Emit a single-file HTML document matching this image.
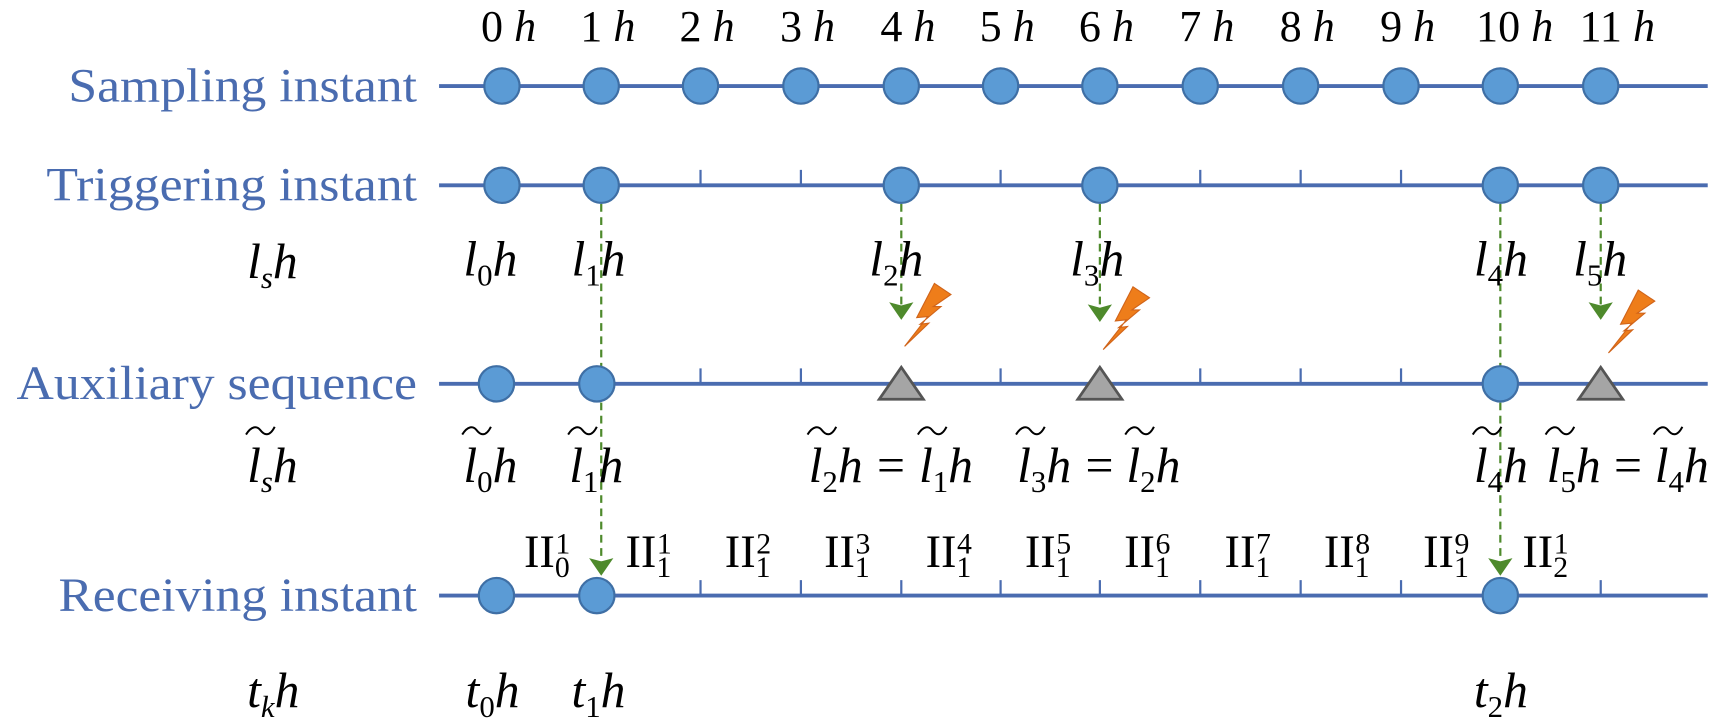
<!DOCTYPE html>
<html><head><meta charset="utf-8"><style>
html,body{margin:0;padding:0;background:#fff;}
svg{display:block}
.lab{font-family:"Liberation Serif",serif;font-size:43px;fill:#4a6cb0;text-anchor:end}
.m{font-family:"Liberation Serif",serif;font-size:45px;fill:#000}
.i{font-style:italic}
.top{font-family:"Liberation Serif",serif;font-size:40px;fill:#000;text-anchor:middle}
.s{font-size:28px;font-style:normal}
.si{font-size:28px;font-style:italic}
.r{font-family:"Liberation Serif",serif;font-size:42px;fill:#000}
.r tspan{font-size:27px}
</style></head><body>
<svg width="1732" height="718" viewBox="0 0 1570 651" preserveAspectRatio="none" xmlns="http://www.w3.org/2000/svg">
<defs>
<g id="bolt"><polygon points="0,0 22,-21 14,-20 33,-36 26,-36 42,-47 27,-57 11,-26 21,-27" fill="#ee7d1a" stroke="#d0641a" stroke-width="1"/></g>
<g id="arr"><polygon points="-11,-16 0,-13 11,-16 0,0" fill="#4e8a2c"/></g>
<path id="tl" d="M0,0 c5,-8 10,-8 13,-4 s8,7 13,-3" fill="none" stroke="#000" stroke-width="1.8"/>
</defs>
<text class="lab" x="378" y="92" textLength="316" lengthAdjust="spacingAndGlyphs">Sampling instant</text>
<text class="lab" x="378" y="182" textLength="336" lengthAdjust="spacingAndGlyphs">Triggering instant</text>
<text class="lab" x="378" y="362" textLength="363" lengthAdjust="spacingAndGlyphs">Auxiliary sequence</text>
<text class="lab" x="378" y="554" textLength="325" lengthAdjust="spacingAndGlyphs">Receiving instant</text>
<g class="top">
<text x="461" y="37">0 <tspan font-style="italic">h</tspan></text>
<text x="551" y="37">1 <tspan font-style="italic">h</tspan></text>
<text x="641" y="37">2 <tspan font-style="italic">h</tspan></text>
<text x="732" y="37">3 <tspan font-style="italic">h</tspan></text>
<text x="823" y="37">4 <tspan font-style="italic">h</tspan></text>
<text x="913" y="37">5 <tspan font-style="italic">h</tspan></text>
<text x="1003" y="37">6 <tspan font-style="italic">h</tspan></text>
<text x="1094" y="37">7 <tspan font-style="italic">h</tspan></text>
<text x="1185" y="37">8 <tspan font-style="italic">h</tspan></text>
<text x="1276" y="37">9 <tspan font-style="italic">h</tspan></text>
<text x="1373" y="37">10 <tspan font-style="italic">h</tspan></text>
<text x="1466" y="37">11 <tspan font-style="italic">h</tspan></text>
</g>
<g stroke="#4a6cb0" stroke-width="3.5">
<line x1="398" y1="78" x2="1548" y2="78"/>
<line x1="398" y1="168" x2="1548" y2="168"/>
<line x1="398" y1="348" x2="1548" y2="348"/>
<line x1="398" y1="540" x2="1548" y2="540"/>
</g>
<g stroke="#4a6cb0" stroke-width="2">
<path d="M635 168v-14M726 168v-14M907 168v-14M1088 168v-14M1179 168v-14M1270 168v-14"/>
<path d="M635 348v-14M726 348v-14M907 348v-14M1088 348v-14M1179 348v-14M1270 348v-14"/>
<path d="M635 540v-14M726 540v-14M817 540v-14M907 540v-14M997 540v-14M1088 540v-14M1179 540v-14M1270 540v-14M1451 540v-14"/>
</g>
<g stroke="#4e8a2c" stroke-width="2" stroke-dasharray="7,5" fill="none">
<line x1="545" y1="185" x2="545" y2="512"/>
<line x1="1360" y1="185" x2="1360" y2="512"/>
<line x1="817" y1="185" x2="817" y2="278"/>
<line x1="997" y1="185" x2="997" y2="278"/>
<line x1="1451" y1="185" x2="1451" y2="278"/>
</g>
<g fill="#5b9bd5" stroke="#3f6fa5" stroke-width="2">
<circle cx="455" cy="78" r="16"/><circle cx="545" cy="78" r="16"/><circle cx="635" cy="78" r="16"/><circle cx="726" cy="78" r="16"/><circle cx="817" cy="78" r="16"/><circle cx="907" cy="78" r="16"/><circle cx="997" cy="78" r="16"/><circle cx="1088" cy="78" r="16"/><circle cx="1179" cy="78" r="16"/><circle cx="1270" cy="78" r="16"/><circle cx="1360" cy="78" r="16"/><circle cx="1451" cy="78" r="16"/>
<circle cx="455" cy="168" r="16"/><circle cx="545" cy="168" r="16"/><circle cx="817" cy="168" r="16"/><circle cx="997" cy="168" r="16"/><circle cx="1360" cy="168" r="16"/><circle cx="1451" cy="168" r="16"/>
<circle cx="450" cy="348" r="16"/><circle cx="541" cy="348" r="16"/><circle cx="1360" cy="348" r="16"/>
<circle cx="450" cy="540" r="16"/><circle cx="541" cy="540" r="16"/><circle cx="1360" cy="540" r="16"/>
</g>
<g fill="#a5a5a5" stroke="#555" stroke-width="2.5">
<polygon points="817,333 797,362 837,362"/>
<polygon points="997,333 977,362 1017,362"/>
<polygon points="1451,333 1431,362 1471,362"/>
</g>
<use href="#arr" x="817" y="290"/><use href="#arr" x="997" y="292"/><use href="#arr" x="1451" y="290"/>
<use href="#arr" x="545" y="522"/><use href="#arr" x="1360" y="522"/>
<use href="#bolt" x="820" y="314"/><use href="#bolt" x="1000" y="317"/><use href="#bolt" x="1458" y="320"/>
<g class="m i">
<text x="224" y="252">l<tspan class="si" dy="9">s</tspan><tspan dy="-9">h</tspan></text>
<text x="420" y="250">l<tspan class="s" dy="9">0</tspan><tspan dy="-9">h</tspan></text>
<text x="518" y="250">l<tspan class="s" dy="9">1</tspan><tspan dy="-9">h</tspan></text>
<text x="788" y="250">l<tspan class="s" dy="9">2</tspan><tspan dy="-9">h</tspan></text>
<text x="970" y="250">l<tspan class="s" dy="9">3</tspan><tspan dy="-9">h</tspan></text>
<text x="1336" y="250">l<tspan class="s" dy="9">4</tspan><tspan dy="-9">h</tspan></text>
<text x="1426" y="250">l<tspan class="s" dy="9">5</tspan><tspan dy="-9">h</tspan></text>
</g>
<g class="m i">
<text x="224" y="437">l<tspan class="si" dy="9">s</tspan><tspan dy="-9">h</tspan></text>
<text x="420" y="437">l<tspan class="s" dy="9">0</tspan><tspan dy="-9">h</tspan></text>
<text x="516" y="437">l<tspan class="s" dy="9">1</tspan><tspan dy="-9">h</tspan></text>
<text x="733" y="437">l<tspan class="s" dy="9">2</tspan><tspan dy="-9">h</tspan></text>
<text x="833" y="437">l<tspan class="s" dy="9">1</tspan><tspan dy="-9">h</tspan></text>
<text x="922" y="437">l<tspan class="s" dy="9">3</tspan><tspan dy="-9">h</tspan></text>
<text x="1021" y="437">l<tspan class="s" dy="9">2</tspan><tspan dy="-9">h</tspan></text>
<text x="1336" y="437">l<tspan class="s" dy="9">4</tspan><tspan dy="-9">h</tspan></text>
<text x="1402" y="437">l<tspan class="s" dy="9">5</tspan><tspan dy="-9">h</tspan></text>
<text x="1500" y="437">l<tspan class="s" dy="9">4</tspan><tspan dy="-9">h</tspan></text>
</g>
<g class="m">
<text x="795" y="437">=</text><text x="984" y="437">=</text><text x="1463" y="437">=</text>
</g>
<g>
<use href="#tl" x="223" y="394"/><use href="#tl" x="419" y="394"/><use href="#tl" x="515" y="394"/>
<use href="#tl" x="732" y="394"/><use href="#tl" x="832" y="394"/>
<use href="#tl" x="921" y="394"/><use href="#tl" x="1020" y="394"/>
<use href="#tl" x="1335" y="394"/><use href="#tl" x="1401" y="394"/><use href="#tl" x="1499" y="394"/>
</g>
<g class="r">
<text x="475" y="514">II<tspan dy="9">0</tspan><tspan dy="-21" dx="-13">1</tspan></text>
<text x="567" y="514">II<tspan dy="9">1</tspan><tspan dy="-21" dx="-13">1</tspan></text>
<text x="657" y="514">II<tspan dy="9">1</tspan><tspan dy="-21" dx="-13">2</tspan></text>
<text x="747" y="514">II<tspan dy="9">1</tspan><tspan dy="-21" dx="-13">3</tspan></text>
<text x="839" y="514">II<tspan dy="9">1</tspan><tspan dy="-21" dx="-13">4</tspan></text>
<text x="929" y="514">II<tspan dy="9">1</tspan><tspan dy="-21" dx="-13">5</tspan></text>
<text x="1019" y="514">II<tspan dy="9">1</tspan><tspan dy="-21" dx="-13">6</tspan></text>
<text x="1110" y="514">II<tspan dy="9">1</tspan><tspan dy="-21" dx="-13">7</tspan></text>
<text x="1200" y="514">II<tspan dy="9">1</tspan><tspan dy="-21" dx="-13">8</tspan></text>
<text x="1290" y="514">II<tspan dy="9">1</tspan><tspan dy="-21" dx="-13">9</tspan></text>
<text x="1380" y="514">II<tspan dy="9">2</tspan><tspan dy="-21" dx="-13">1</tspan></text>
</g>
<g class="m i">
<text x="224" y="641">t<tspan class="si" dy="9">k</tspan><tspan dy="-9">h</tspan></text>
<text x="422" y="641">t<tspan class="s" dy="9">0</tspan><tspan dy="-9">h</tspan></text>
<text x="518" y="641">t<tspan class="s" dy="9">1</tspan><tspan dy="-9">h</tspan></text>
<text x="1336" y="641">t<tspan class="s" dy="9">2</tspan><tspan dy="-9">h</tspan></text>
</g>
</svg>
</body></html>
